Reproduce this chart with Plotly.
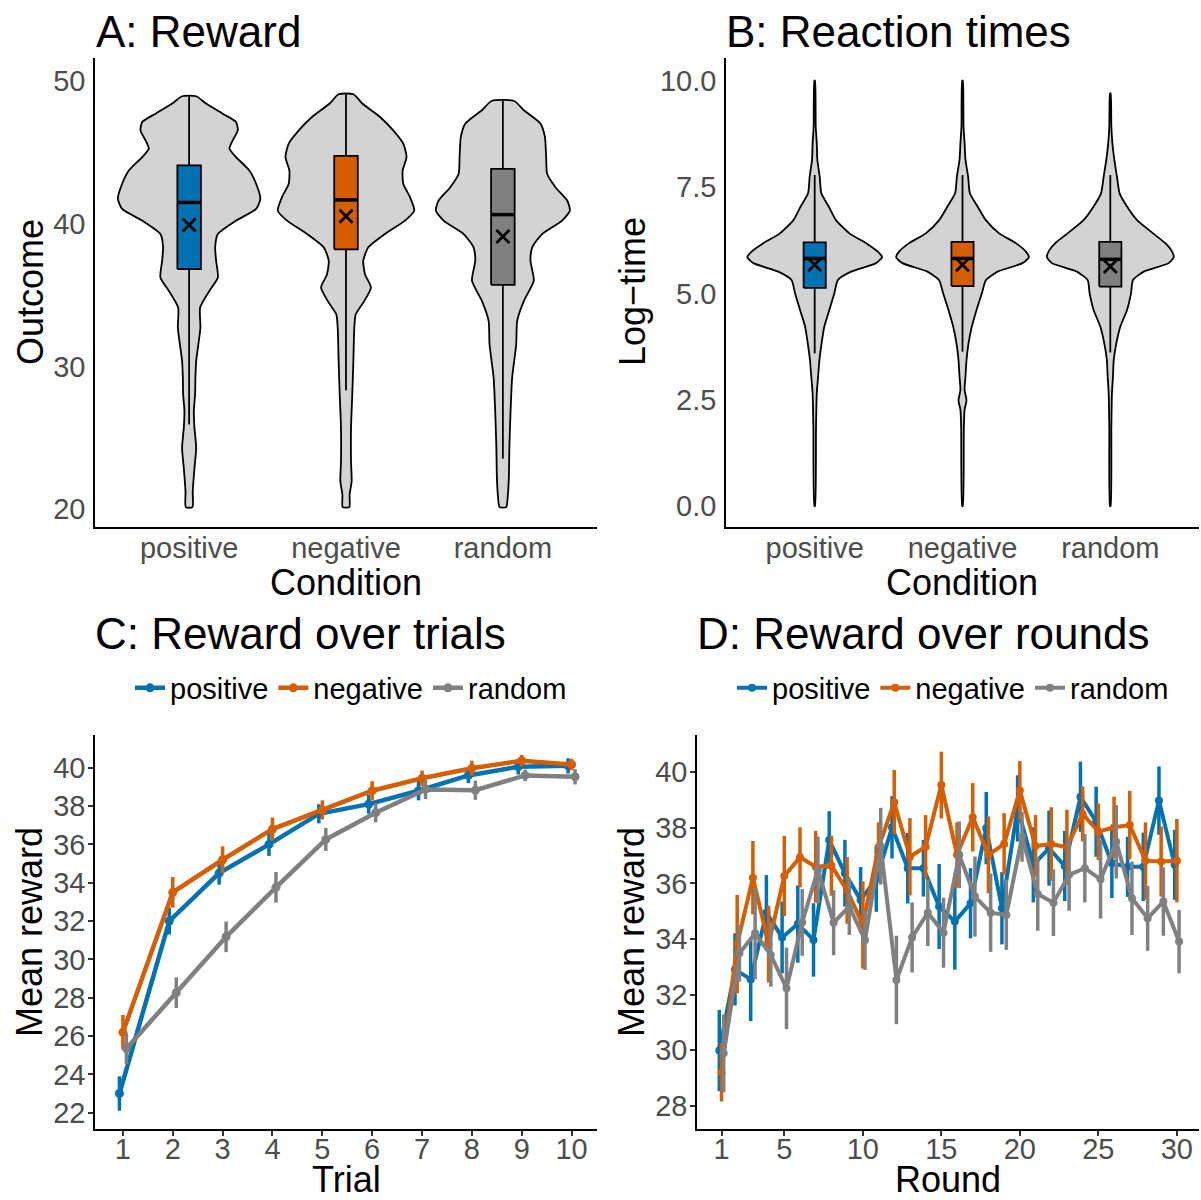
import plotly.graph_objects as go

FONT = "Liberation Sans"
W, H = 1201, 1200

conditions = ["positive", "negative", "random"]
cond_colors = ["#0072B2", "#D55E00", "#808080"]
violin_fill = "#D3D3D3"

# ---------------- Panel A: Reward violins (density profiles)
A_pos_v = [20.14, 21.24, 22.88, 24.28, 25.69, 26.87, 28.03, 29.20, 30.38, 31.55, 32.72, 34.12, 35.30, 36.23, 37.40,
           38.34, 39.27, 40.21, 41.03, 41.73, 42.79, 43.72, 44.66, 45.25, 45.83, 46.53, 47.12, 47.70, 48.41, 48.92]
A_pos_w = [0.021, 0.023, 0.034, 0.045, 0.034, 0.030, 0.038, 0.040, 0.045, 0.059, 0.072, 0.070, 0.130, 0.183, 0.172,
           0.166, 0.183, 0.299, 0.427, 0.454, 0.427, 0.384, 0.299, 0.257, 0.278, 0.310, 0.299, 0.214, 0.108, 0.045]
A_neg_v = [20.14, 21.02, 21.96, 23.35, 25.69, 28.03, 30.38, 32.72, 33.65, 34.59, 35.53, 36.46, 37.40, 38.34, 39.27,
           40.21, 40.91, 41.85, 42.79, 43.72, 44.66, 45.60, 46.53, 47.47, 48.41, 49.06]
A_neg_w = [0.021, 0.023, 0.036, 0.032, 0.032, 0.040, 0.047, 0.053, 0.062, 0.117, 0.159, 0.121, 0.110, 0.142, 0.248,
           0.376, 0.435, 0.408, 0.365, 0.361, 0.386, 0.365, 0.301, 0.217, 0.104, 0.047]
A_rnd_v = [20.14, 21.01, 22.18, 24.52, 26.87, 29.20, 31.55, 33.19, 34.59, 36.00, 37.40, 38.34, 39.27, 40.21, 40.91,
           41.62, 42.55, 43.49, 44.66, 46.07, 47.00, 47.94, 48.59]
A_rnd_w = [0.021, 0.032, 0.038, 0.042, 0.049, 0.059, 0.085, 0.091, 0.134, 0.197, 0.176, 0.187, 0.250, 0.378, 0.427,
           0.410, 0.335, 0.282, 0.276, 0.268, 0.240, 0.134, 0.072]

A_q1 = [36.82, 38.20, 35.71]
A_median = [41.48, 41.66, 40.63]
A_q3 = [44.08, 44.75, 43.84]
A_low = [25.93, 28.32, 23.54]
A_high = [48.92, 49.06, 48.59]
A_mean = [39.91, 40.52, 39.09]

# ---------------- Panel B: Reaction times (log)
B_pos_v = [0.0, 1.86, 2.65, 3.04, 3.43, 3.83, 4.22, 4.61, 5.0, 5.31, 5.51, 5.71, 5.85, 5.98, 6.18, 6.41, 6.72, 7.04,
           7.35, 7.74, 8.14, 8.53, 8.92, 10.0]
B_pos_w = [0.002, 0.009, 0.014, 0.023, 0.032, 0.047, 0.065, 0.099, 0.133, 0.156, 0.246, 0.415, 0.456, 0.427, 0.348,
           0.235, 0.144, 0.095, 0.045, 0.034, 0.018, 0.014, 0.007, 0.002]
B_neg_v = [0.0, 1.86, 2.26, 2.49, 2.73, 3.04, 3.43, 3.83, 4.22, 4.61, 5.0, 5.31, 5.51, 5.71, 5.85, 5.98, 6.18, 6.41,
           6.72, 7.04, 7.35, 7.74, 8.14, 8.53, 8.92, 10.0]
B_neg_w = [0.002, 0.009, 0.014, 0.027, 0.014, 0.020, 0.027, 0.041, 0.063, 0.095, 0.131, 0.158, 0.237, 0.406, 0.449,
           0.429, 0.361, 0.248, 0.158, 0.102, 0.050, 0.038, 0.020, 0.014, 0.007, 0.002]
B_rnd_v = [0.0, 1.86, 2.65, 3.04, 3.43, 3.83, 4.22, 4.61, 5.0, 5.31, 5.51, 5.71, 5.85, 5.98, 6.18, 6.41, 6.72, 7.04,
           7.35, 7.74, 8.14, 8.53, 8.92, 9.70]
B_rnd_w = [0.002, 0.007, 0.011, 0.018, 0.023, 0.041, 0.068, 0.113, 0.140, 0.153, 0.226, 0.395, 0.429, 0.418, 0.372,
           0.289, 0.181, 0.113, 0.063, 0.045, 0.027, 0.014, 0.007, 0.002]

B_q1 = [5.13, 5.17, 5.16]
B_median = [5.82, 5.82, 5.80]
B_q3 = [6.20, 6.21, 6.21]
B_low = [3.59, 3.63, 3.61]
B_high = [7.78, 7.78, 7.78]
B_mean = [5.67, 5.67, 5.63]

# ---------------- Panel C: reward over trials
trials = [1, 2, 3, 4, 5, 6, 7, 8, 9, 10]
C_pos = [23.0, 32.0, 34.5, 36.0, 37.6, 38.1, 38.8, 39.6, 40.05, 40.1]
C_neg = [26.2, 33.5, 35.2, 36.8, 37.8, 38.8, 39.45, 39.97, 40.37, 40.17]
C_rnd = [25.35, 28.26, 31.18, 33.76, 36.26, 37.65, 38.87, 38.83, 39.6, 39.53]
C_pos_se = [0.9, 0.7, 0.6, 0.6, 0.5, 0.5, 0.5, 0.4, 0.4, 0.4]
C_neg_se = [0.9, 0.8, 0.7, 0.6, 0.5, 0.5, 0.4, 0.4, 0.3, 0.3]
C_rnd_se = [0.8, 0.8, 0.8, 0.8, 0.6, 0.5, 0.5, 0.5, 0.3, 0.4]

# ---------------- Panel D: reward over rounds
rounds = list(range(1, 31))
D_pos = [29.99, 32.91, 32.55, 34.95, 34.06, 34.54, 33.97, 37.56, 36.37, 35.41, 36.15, 38.02, 36.55, 36.55, 35.17,
         34.63, 35.29, 37.99, 35.11, 38.7, 36.67, 37.27, 36.63, 39.12, 38.22, 36.73, 36.6, 36.6, 38.98, 36.67]
D_neg = [29.21, 33.82, 36.21, 33.82, 36.27, 36.94, 36.6, 36.64, 35.75, 34.51, 37.3, 38.92, 36.96, 37.32, 39.54,
         37.03, 38.38, 37.03, 37.42, 39.34, 37.35, 37.42, 37.3, 38.5, 37.86, 38.02, 38.1, 36.82, 36.79, 36.82]
D_rnd = [29.89, 33.49, 34.21, 33.43, 32.23, 34.6, 36.49, 34.59, 35.17, 33.97, 37.34, 32.53, 34.06, 34.95, 34.23,
         37.03, 35.53, 34.95, 34.87, 37.68, 35.62, 35.31, 36.31, 36.55, 36.15, 37.5, 35.47, 34.75, 35.35, 33.91]
D_pos_se = [1.46, 1.30, 1.50, 1.35, 1.29, 1.39, 1.32, 1.04, 1.20, 1.18, 1.17, 1.12, 1.27, 1.02, 1.53,
            1.73, 1.26, 1.30, 1.30, 1.19, 1.35, 1.35, 1.26, 1.26, 1.26, 1.25, 1.08, 1.23, 1.23, 1.26]
D_neg_se = [1.05, 1.77, 1.32, 1.38, 1.44, 1.08, 1.29, 1.08, 1.20, 1.57, 0.90, 1.16, 1.39, 1.14, 1.20,
            1.17, 1.23, 1.38, 1.11, 1.06, 1.11, 1.32, 1.35, 0.99, 1.02, 1.10, 1.23, 1.38, 1.26, 1.50]
D_rnd_se = [1.40, 1.02, 1.65, 1.14, 1.47, 1.20, 1.20, 1.17, 1.02, 1.08, 1.38, 1.59, 1.26, 1.20, 1.26,
            1.20, 1.44, 1.41, 1.26, 0.90, 1.32, 1.20, 1.29, 1.23, 1.41, 1.32, 1.32, 1.17, 1.23, 1.14]

# ---------------- styling constants
BOX_W = 0.15
DODGE_C = 0.07
DODGE_D = 0.14

fig = go.Figure()


def add_violins(xa, ya, profiles, q1, med, q3, low, high, mean):
    for i, (v, w) in enumerate(profiles):
        c = i + 1
        xs = [c + hw for hw in w] + [c - hw for hw in reversed(w)] + [c + w[0]]
        ys = list(v) + list(reversed(v)) + [v[0]]
        fig.add_trace(go.Scatter(x=xs, y=ys, mode="lines", fill="toself", fillcolor=violin_fill,
                                 line=dict(color="black", width=1.8, shape="spline", smoothing=0.6),
                                 showlegend=False, hoverinfo="skip", xaxis=xa, yaxis=ya))
    for i in range(3):
        c = i + 1
        for a, b in ((low[i], q1[i]), (q3[i], high[i])):
            fig.add_trace(go.Scatter(x=[c, c], y=[a, b], mode="lines", line=dict(color="black", width=1.8),
                                     showlegend=False, hoverinfo="skip", xaxis=xa, yaxis=ya))
        l, r = c - BOX_W / 2, c + BOX_W / 2
        fig.add_trace(go.Scatter(x=[l, r, r, l, l], y=[q1[i], q1[i], q3[i], q3[i], q1[i]], mode="lines",
                                 fill="toself", fillcolor=cond_colors[i], line=dict(color="black", width=1.8),
                                 showlegend=False, hoverinfo="skip", xaxis=xa, yaxis=ya))
        fig.add_trace(go.Scatter(x=[l, r], y=[med[i], med[i]], mode="lines",
                                 line=dict(color="black", width=3.5), showlegend=False,
                                 hoverinfo="skip", xaxis=xa, yaxis=ya))
    fig.add_trace(go.Scatter(x=[1, 2, 3], y=mean, mode="markers",
                             marker=dict(symbol="x-thin", size=13, color="black",
                                         line=dict(color="black", width=2.8)),
                             showlegend=False, hoverinfo="skip", xaxis=xa, yaxis=ya))


add_violins("x", "y", [(A_pos_v, A_pos_w), (A_neg_v, A_neg_w), (A_rnd_v, A_rnd_w)],
            A_q1, A_median, A_q3, A_low, A_high, A_mean)
add_violins("x2", "y2", [(B_pos_v, B_pos_w), (B_neg_v, B_neg_w), (B_rnd_v, B_rnd_w)],
            B_q1, B_median, B_q3, B_low, B_high, B_mean)


def add_lines(xa, ya, xs, series, ses, dodge, lw, elw, msize, legend):
    offsets = [-dodge, 0, dodge]
    for i, (vals, se) in enumerate(zip(series, ses)):
        fig.add_trace(go.Scatter(
            x=[x + offsets[i] for x in xs], y=vals, mode="lines+markers", name=conditions[i],
            line=dict(color=cond_colors[i], width=lw), marker=dict(color=cond_colors[i], size=msize),
            error_y=dict(type="data", array=se, visible=True, color=cond_colors[i], thickness=elw, width=0),
            legend=legend, hoverinfo="skip", xaxis=xa, yaxis=ya))


add_lines("x3", "y3", trials, [C_pos, C_neg, C_rnd], [C_pos_se, C_neg_se, C_rnd_se], DODGE_C, 4.5, 3.5, 9, "legend")
add_lines("x4", "y4", rounds, [D_pos, D_neg, D_rnd], [D_pos_se, D_neg_se, D_rnd_se], DODGE_D, 4, 3.5, 8, "legend2")

axis_common = dict(showline=True, linecolor="black", linewidth=1.5, showgrid=False, zeroline=False,
                   tickfont=dict(family=FONT, size=29, color="#4D4D4D"))
tick_on = dict(ticks="outside", ticklen=5, tickwidth=1.5, tickcolor="#333333")
tick_off = dict(ticks="")
x_ab = dict(axis_common, **tick_off, ticklabelstandoff=-6)
y_ab = dict(axis_common, **tick_off, ticklabelstandoff=2)
x_cd = dict(axis_common, **tick_on, ticklabelstandoff=-12)
y_cd = dict(axis_common, **tick_on, ticklabelstandoff=-3)


def px_x(a, b):
    return [a / W, b / W]


def px_y(top, bottom):
    return [1 - bottom / H, 1 - top / H]


fig.update_layout(
    width=W, height=H, margin=dict(l=0, r=0, t=0, b=0),
    paper_bgcolor="white", plot_bgcolor="white",
    font=dict(family=FONT, color="black"),
    xaxis=dict(domain=px_x(95, 597), anchor="y", range=[0.4, 3.6], tickvals=[1, 2, 3], ticktext=conditions,
               **x_ab),
    yaxis=dict(domain=px_y(58, 527), anchor="x", range=[18.75, 51.6], tickvals=[20, 30, 40, 50], **y_ab),
    xaxis2=dict(domain=px_x(726, 1199), anchor="y2", range=[0.4, 3.6], tickvals=[1, 2, 3], ticktext=conditions,
                **x_ab),
    yaxis2=dict(domain=px_y(58, 527), anchor="x2", range=[-0.49, 10.53], tickvals=[0, 2.5, 5, 7.5, 10],
                ticktext=["0.0", "2.5", "5.0", "7.5", "10.0"], **y_ab),
    xaxis3=dict(domain=px_x(95, 597), anchor="y3", range=[0.44, 10.51], tickvals=trials, **x_cd),
    yaxis3=dict(domain=px_y(735, 1129), anchor="x3", range=[21.15, 41.71], tickvals=list(range(22, 41, 2)),
                **y_cd),
    xaxis4=dict(domain=px_x(697, 1199), anchor="y4", range=[-0.56, 31.41], tickvals=[1, 5, 10, 15, 20, 25, 30],
                **x_cd),
    yaxis4=dict(domain=px_y(735, 1129), anchor="x4", range=[27.17, 41.34], tickvals=list(range(28, 41, 2)),
                **y_cd),
    legend=dict(orientation="h", x=351 / W, xanchor="center", y=1 - 688 / H, yanchor="middle",
                font=dict(family=FONT, size=29, color="black"), bgcolor="rgba(0,0,0,0)"),
    legend2=dict(orientation="h", x=953 / W, xanchor="center", y=1 - 688 / H, yanchor="middle",
                 font=dict(family=FONT, size=29, color="black"), bgcolor="rgba(0,0,0,0)"),
    showlegend=True,
)

annotations = [
    dict(text="A: Reward", x=94 / W, y=1 - 32 / H, xanchor="left", yanchor="middle", size=44),
    dict(text="B: Reaction times", x=724 / W, y=1 - 32 / H, xanchor="left", yanchor="middle", size=44),
    dict(text="C: Reward over trials", x=93 / W, y=1 - 633 / H, xanchor="left", yanchor="middle", size=44),
    dict(text="D: Reward over rounds", x=695 / W, y=1 - 633 / H, xanchor="left", yanchor="middle", size=44),
    dict(text="Outcome", x=30 / W, y=1 - 292 / H, xanchor="center", yanchor="middle", size=36, angle=-90),
    dict(text="Condition", x=346 / W, y=1 - 582 / H, xanchor="center", yanchor="middle", size=36),
    dict(text="Log\u2212time", x=632 / W, y=1 - 292 / H, xanchor="center", yanchor="middle", size=36, angle=-90),
    dict(text="Condition", x=962 / W, y=1 - 582 / H, xanchor="center", yanchor="middle", size=36),
    dict(text="Mean reward", x=30 / W, y=1 - 932 / H, xanchor="center", yanchor="middle", size=36, angle=-90),
    dict(text="Trial", x=346 / W, y=1 - 1179 / H, xanchor="center", yanchor="middle", size=36),
    dict(text="Mean reward", x=632 / W, y=1 - 932 / H, xanchor="center", yanchor="middle", size=36, angle=-90),
    dict(text="Round", x=948 / W, y=1 - 1179 / H, xanchor="center", yanchor="middle", size=36),
]
fig.update_layout(annotations=[
    dict(text=a["text"], x=a["x"], y=a["y"], xref="paper", yref="paper", xanchor=a["xanchor"],
         yanchor=a["yanchor"], showarrow=False, textangle=a.get("angle", 0),
         font=dict(family=FONT, size=a["size"], color="black"))
    for a in annotations
])

fig.write_html("out.html")
